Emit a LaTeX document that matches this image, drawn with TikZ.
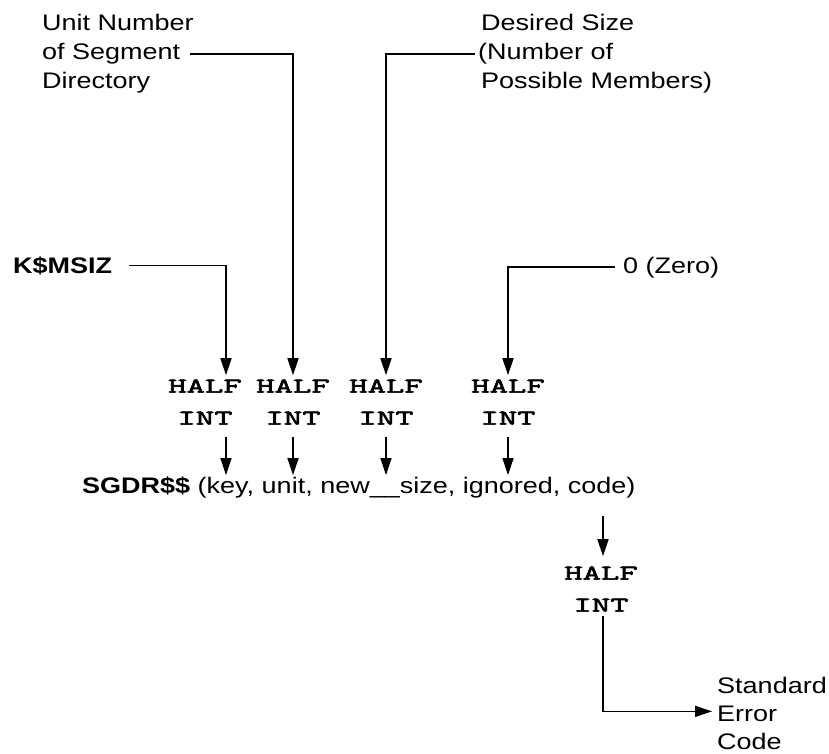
\documentclass[tikz,border=0pt]{standalone}
\usepackage{fontspec}
\setmainfont{Liberation Sans}[FakeStretch=1.2]
\newfontfamily\tyfont{Latin Modern Mono}[FakeStretch=1.7, FakeBold=3]
\usetikzlibrary{arrows.meta}
\begin{document}
\begin{tikzpicture}[x=1pt,y=-1pt,
  lbl/.style={inner sep=0pt, anchor=base west, font=\fontsize{22.5}{29}\selectfont},
  bl/.style={lbl, font=\fontsize{22.5}{29}\selectfont\bfseries},
  ty/.style={align=center, inner sep=4pt, font=\tyfont\fontsize{21}{32}\selectfont},
  ln/.style={line width=1.6pt},
  arr/.style={ln, -{Triangle[length=17pt,width=11pt]}}]
\useasboundingbox (0,0) rectangle (829,754);

% top labels
\node[lbl] (u1) at (42,31) {Unit Number};
\node[lbl] (u2) at (42,60) {of Segment};
\node[lbl] (u3) at (42,89) {Directory};
\node[lbl] (d1) at (481,31) {Desired Size};
\node[lbl] (d2) at (478,60) {(Number of};
\node[lbl] (d3) at (481,89) {Possible Members)};
\node[bl] (k) at (13,273) {K\$MSIZ};
\node[lbl] (z) at (623,273) {0 (Zero)};

% HALF INT nodes
\node[ty] (h1) at (205,402) {HALF\\INT};
\node[ty] (h2) at (293,402) {HALF\\INT};
\node[ty] (h3) at (386,402) {HALF\\INT};
\node[ty] (h4) at (508,402) {HALF\\INT};
\node[ty] (h5) at (601,589) {HALF\\INT};

% call line
\node[lbl, inner ysep=1pt] (sg) at (82,493) {\textbf{SGDR\$\$} (key, unit, new\_\_size, ignored, code)};
\coordinate (cd) at (603,516);

% result labels
\node[lbl] (s1) at (717,693) {Standard};
\node[lbl] (s2) at (717,721) {Error};
\node[lbl] (s3) at (717,749) {Code};

% connectors into HALF INT
\draw[arr] ([xshift=17pt]k.east) -| ([xshift=21pt]h1.north);
\draw[arr] ([xshift=10pt]u2.east) -| (h2.north);
\draw[arr] ([xshift=-3pt]d2.west) -| (h3.north);
\draw[arr] ([xshift=-8pt]z.west) -| (h4.north);

% HALF INT into call
\draw[arr] ([xshift=21pt,yshift=-8pt]h1.south) -- ([xshift=21pt]h1.south |- sg.north);
\draw[arr] ([yshift=-8pt]h2.south) -- (h2.south |- sg.north);
\draw[arr] ([yshift=-8pt]h3.south) -- (h3.south |- sg.north);
\draw[arr] ([yshift=-8pt]h4.south) -- (h4.south |- sg.north);

% code output
\draw[arr] (cd) -- ([xshift=2pt,yshift=6pt]h5.north);
\draw[arr] ([xshift=2pt]h5.south) |- ([xshift=-5pt,yshift=2pt]s2.west);
\end{tikzpicture}
\end{document}
